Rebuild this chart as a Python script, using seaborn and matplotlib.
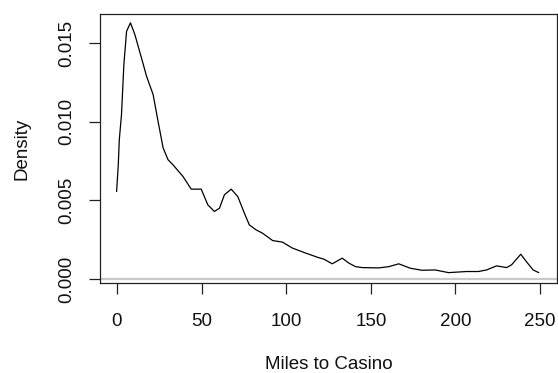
import matplotlib
matplotlib.use("Agg")
import matplotlib.pyplot as plt
import seaborn as sns
import pandas as pd

# density curve
miles = [-0.2, 0.8, 1.4, 2.7, 4.1, 5.7, 8.0, 10.6, 14.5, 17.5, 21.4, 24.3, 27.3,
         30.2, 33.1, 39.0, 43.9, 49.8, 53.7, 57.6, 60.6, 63.5, 67.5, 71.4, 75.3,
         78.2, 82.2, 86.0, 92.0, 97.8, 103.7, 110.6, 118.4, 122.4, 127.2, 133.1,
         137.1, 141.0, 144.9, 154.7, 160.6, 166.5, 173.3, 180.2, 188.0, 195.9,
         206.6, 213.5, 218.4, 224.3, 230.2, 233.1, 238.6, 241.9, 245.9, 249.2]
density = [0.00556, 0.00726, 0.00885, 0.01045, 0.01363, 0.01575, 0.01629, 0.01554,
           0.01406, 0.01289, 0.01172, 0.01002, 0.00833, 0.00758, 0.00726, 0.00652,
           0.00571, 0.00571, 0.00471, 0.00429, 0.00450, 0.00535, 0.00571, 0.00524,
           0.00418, 0.00344, 0.00312, 0.00291, 0.00244, 0.00234, 0.00196, 0.00168,
           0.00138, 0.00125, 0.00096, 0.00132, 0.00100, 0.00078, 0.00072, 0.00070,
           0.00078, 0.00096, 0.00068, 0.00055, 0.00057, 0.00040, 0.00047, 0.00047,
           0.00057, 0.00083, 0.00072, 0.00089, 0.00157, 0.00110, 0.00057, 0.00040]
x_ticks = [0, 50, 100, 150, 200, 250]
y_ticks = [0.000, 0.005, 0.010, 0.015]

df = pd.DataFrame({'miles': miles, 'density': density})

sns.set_theme(style='white')
plt.rcParams['font.family'] = ['Liberation Sans', 'DejaVu Sans']
plt.rcParams['axes.edgecolor'] = '#222222'
plt.rcParams['axes.linewidth'] = 0.9

fig = plt.figure(figsize=(5.58, 3.73), dpi=100)
ax = fig.add_axes([100/558, 1-283/373, 457/558, 269/373])

ax.axhline(0, color='#c8c8c8', lw=1.6, zorder=1)
sns.lineplot(data=df, x='miles', y='density', color='black', lw=0.9, ax=ax,
             sort=False, zorder=2)

ax.set_xlim(-10, 260)
ax.set_ylim(-0.00026, 0.01685)
ax.set_xticks(x_ticks)
ax.set_xticklabels([str(t) for t in x_ticks])
ax.set_yticks(y_ticks)
ax.set_yticklabels([f'{t:.3f}' for t in y_ticks], rotation=90, va='center')
ax.tick_params(axis='both', direction='out', length=8, width=0.9,
               color='#222222', labelsize=13.5, labelcolor='#111111')
ax.tick_params(axis='x', pad=13.5, bottom=True)
ax.tick_params(axis='y', pad=9.5, left=True)
for s in ax.spines.values():
    s.set_visible(True)

ax.set_xlabel("Miles to Casino", fontsize=13.5, labelpad=19, color='#111111')
ax.set_ylabel("Density", fontsize=13.5, labelpad=20, color='#111111')

plt.savefig('out.png', dpi=100)
